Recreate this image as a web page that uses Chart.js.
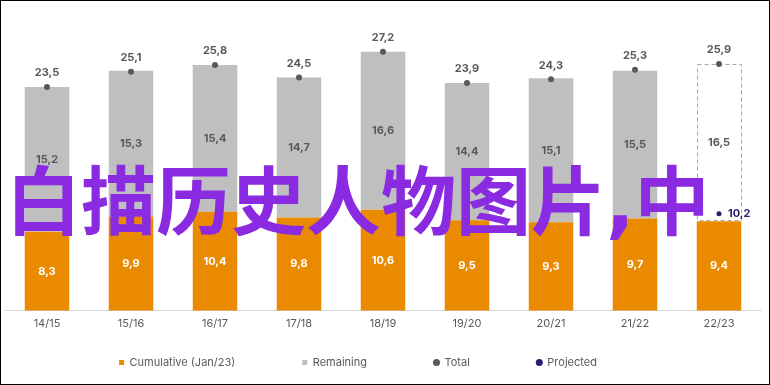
<!DOCTYPE html>
<html>
<head>
<meta charset="utf-8">
<script src="https://cdn.jsdelivr.net/npm/chart.js@4"></script>
<style>
    body { margin: 0; background: #fff; }
    #wrap { position: relative; width: 770px; height: 385px; border: 1px solid #000; box-sizing: border-box; }
    #wrap canvas { display: block; }
    #mark {
        position: absolute; left: 5px; top: 158px;
        font: bold 75px "Noto Sans CJK SC"; line-height: 1;
        color: #8a2be2; white-space: nowrap;
    }
    #mark span { font-family: "DejaVu Sans"; }
</style>
</head>
<body>
<div id="wrap">
    <canvas id="seasons-chart" width="768" height="383"></canvas>
    <div id="mark">白描历史人物图片<span>,</span>中</div>
</div>
<script>
const seasons = ['14/15', '15/16', '16/17', '17/18', '18/19', '19/20', '20/21', '21/22', '22/23'];
const cumulative = [8.3, 9.9, 10.4, 9.8, 10.6, 9.5, 9.3, 9.7, 9.4];
const remaining = [15.2, 15.3, 15.4, 14.7, 16.6, 14.4, 15.1, 15.5, 16.5];
const totals = [23.5, 25.1, 25.8, 24.5, 27.2, 23.9, 24.3, 25.3, 25.9];
const projected = [null, null, null, null, null, null, null, null, 10.2];

const grey = '#595959';
const fmt = v => v.toFixed(1).replace('.', ',');
const last = seasons.length - 1;

// value labels + dashed outline on the current season
const barLabels = {
    id: 'barLabels',
    afterDatasetDraw(chart, args) {
        if (args.index !== 1) return;
        const ctx = chart.ctx;
        const bar = args.meta.data[last];
        ctx.save();
        ctx.setLineDash([4, 3]);
        ctx.strokeStyle = '#a6a6a6';
        ctx.lineWidth = 1;
        ctx.strokeRect(Math.round(bar.x - bar.width / 2) + 0.5, Math.round(bar.y) + 0.5,
            Math.round(bar.width) - 1, Math.round(bar.base - bar.y) - 1);
        ctx.restore();
    },
    afterDatasetsDraw(chart) {
        const ctx = chart.ctx;
        ctx.save();
        ctx.font = 'bold 11px Inter';
        ctx.textAlign = 'center';
        ctx.textBaseline = 'middle';
        chart.getDatasetMeta(0).data.forEach((el, i) => {
            ctx.fillStyle = '#fff';
            ctx.fillText(fmt(cumulative[i]), el.x, (el.y + el.base) / 2);
        });
        chart.getDatasetMeta(1).data.forEach((el, i) => {
            ctx.fillStyle = grey;
            ctx.fillText(fmt(remaining[i]), el.x, (el.y + el.base) / 2);
        });
        chart.getDatasetMeta(2).data.forEach((el, i) => {
            ctx.fillStyle = grey;
            ctx.fillText(fmt(totals[i]), el.x, el.y - 14);
        });
        ctx.textAlign = 'left';
        chart.getDatasetMeta(3).data.forEach((el, i) => {
            if (projected[i] == null) return;
            ctx.fillStyle = '#2e1a6e';
            ctx.fillText(fmt(projected[i]), el.x + 9, el.y);
        });
        ctx.restore();
    }
};

// legend items are spread wide (big padding), so stretch the band upward
const legendPlace = {
    id: 'legendPlace',
    afterLayout(chart) {
        const lg = chart.legend;
        lg.top -= 46;
        lg.left -= 23;
        lg.right -= 23;
    }
};

new Chart(document.getElementById('seasons-chart'), {
    type: 'bar',
    data: {
        labels: seasons,
        datasets: [{
            label: 'Cumulative (Jan/23)',
            data: cumulative,
            backgroundColor: '#ea8a00',
            stack: 's',
            order: 2
        }, {
            label: 'Remaining',
            data: remaining,
            backgroundColor: remaining.map((v, i) => i === last ? '#fff' : '#bfbfbf'),
            stack: 's',
            order: 2
        }, {
            type: 'line',
            label: 'Total',
            data: totals,
            showLine: false,
            borderWidth: 0,
            backgroundColor: grey,
            borderColor: grey,
            pointRadius: 3,
            pointBorderWidth: 0,
            stack: 't',
            order: 1
        }, {
            type: 'line',
            label: 'Projected',
            data: projected,
            showLine: false,
            borderWidth: 0,
            backgroundColor: '#2e1a6e',
            borderColor: '#2e1a6e',
            pointRadius: 2.5,
            pointBorderWidth: 0,
            stack: 'p',
            order: 0
        }]
    },
    options: {
        responsive: false,
        animation: false,
        layout: { padding: { top: 24, right: 8, left: 0, bottom: 0 } },
        datasets: { bar: { categoryPercentage: 1, barPercentage: 0.53 } },
        scales: {
            x: {
                stacked: true,
                grid: { display: false, drawTicks: false },
                border: { color: '#d9d9d9' },
                ticks: { color: grey, padding: 6, font: { size: 11, family: 'Inter' } }
            },
            y: { stacked: true, display: false, min: 0, max: 30 }
        },
        plugins: {
            tooltip: { enabled: false },
            legend: {
                position: 'bottom',
                maxHeight: 48,
                labels: {
                    usePointStyle: true,
                    boxWidth: 5,
                    boxHeight: 5,
                    padding: 67,
                    color: grey,
                    font: { size: 11, family: 'Inter' },
                    sort: (a, b) => a.datasetIndex - b.datasetIndex,
                    generateLabels(chart) {
                        const items = Chart.defaults.plugins.legend.labels.generateLabels(chart);
                        items.forEach(it => { it.pointStyle = it.datasetIndex < 2 ? 'rect' : 'circle'; });
                        return items;
                    }
                }
            }
        }
    },
    plugins: [barLabels, legendPlace]
});
</script>
</body>
</html>
